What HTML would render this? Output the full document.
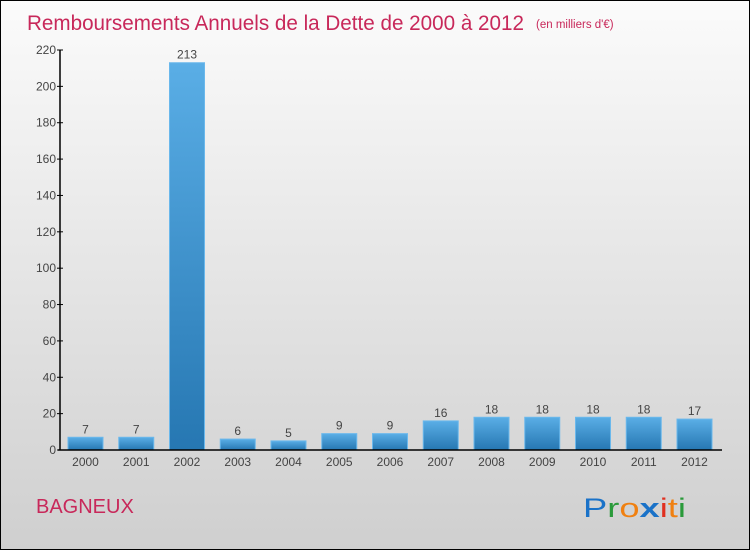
<!DOCTYPE html>
<html><head><meta charset="utf-8"><style>
body{margin:0;width:750px;height:550px;overflow:hidden}
svg{display:block}
text{font-family:"Liberation Sans",sans-serif}
</style></head><body>
<svg id="c" width="750" height="550">
<defs>
<linearGradient id="bg" x1="0" y1="0" x2="0" y2="1"><stop offset="0" stop-color="#fbfbfb"/><stop offset="1" stop-color="#cfcfcf"/></linearGradient>
<linearGradient id="bar" x1="0" y1="0" x2="0" y2="1"><stop offset="0" stop-color="#5aaee6"/><stop offset="1" stop-color="#2677b2"/></linearGradient>
</defs>
<rect x="0.5" y="0.5" width="749" height="549" fill="url(#bg)" stroke="#000"/>
<text x="27" y="30" font-size="21" fill="#c8285a" textLength="497" lengthAdjust="spacingAndGlyphs">Remboursements Annuels de la Dette de 2000 à 2012</text>
<text x="536" y="28" font-size="11.5" fill="#c8285a">(en milliers d'€)</text>
<text x="36" y="513" font-size="20" fill="#c8285a">BAGNEUX</text>
<g font-size="27">
<text x="583" y="517" fill="#1a72c8" textLength="103" lengthAdjust="spacingAndGlyphs">P<tspan fill="#2a9a3a">r</tspan><tspan fill="#f08010">o</tspan><tspan fill="#1a72c8" font-weight="bold">x</tspan><tspan fill="#e03020">i</tspan><tspan fill="#f08010">t</tspan><tspan fill="#2a9a3a">i</tspan></text>
</g>
<g id="plot"></g>
</svg>
<script>
const categories=["2000","2001","2002","2003","2004","2005","2006","2007","2008","2009","2010","2011","2012"];
const values=[7,7,213,6,5,9,9,16,18,18,18,18,17];
const ticks=[0,20,40,60,80,100,120,140,160,180,200,220];
const ns="http://www.w3.org/2000/svg";
const g=document.getElementById('plot');
const y=v=>450-v*400/220;
const x=i=>85.5+i*50.75;
function mk(t,a,txt){const e=document.createElementNS(ns,t);for(const k in a)e.setAttribute(k,a[k]);if(txt!==undefined)e.textContent=txt;g.appendChild(e);return e;}
values.forEach((v,i)=>{
 const r=mk('rect',{x:x(i)-17.5,y:y(v),width:35,height:450-y(v),fill:'url(#bar)',stroke:'#6ab8ec','stroke-width':1});
 
 
 const l=mk('text',{x:x(i),y:y(v)-4,'font-size':12,fill:'#444','text-anchor':'middle'},String(v));
 
 
 const c=mk('text',{x:x(i),y:466,'font-size':12,fill:'#444','text-anchor':'middle'},categories[i]);
 
 
});
ticks.forEach(t=>{
 const tl=mk('line',{x1:57,x2:63,y1:y(t),y2:y(t),stroke:'#000'});
 
 
 const tx=mk('text',{x:56,y:y(t)+4,'font-size':12,fill:'#444','text-anchor':'end'},String(t));
 
 
});
const ya=mk('line',{x1:60,x2:60,y1:y(220),y2:450,stroke:'#000','stroke-width':1.5});


const xa=mk('line',{x1:58,x2:722,y1:450,y2:450,stroke:'#000','stroke-width':1.5});


</script>
</body></html>
